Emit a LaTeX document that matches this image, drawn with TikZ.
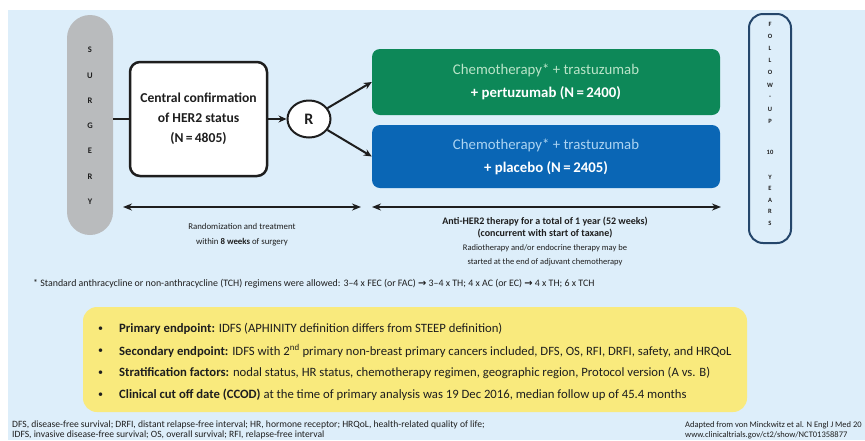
\documentclass[tikz,border=0pt]{standalone}
\usepackage{fontspec}
\setmainfont{Carlito}
\newfontfamily\djv{DejaVu Sans}
\usetikzlibrary{arrows.meta,shapes.geometric,calc}
\definecolor{bgblue}{RGB}{221,238,250}
\definecolor{pillgray}{RGB}{185,187,189}
\definecolor{armgreen}{RGB}{13,136,88}
\definecolor{armblue}{RGB}{10,102,181}
\definecolor{lightgreen}{RGB}{185,228,200}
\definecolor{lightblue}{RGB}{172,212,242}
\definecolor{navy}{RGB}{36,70,107}
\definecolor{keyyellow}{RGB}{249,234,125}
\definecolor{ink}{RGB}{30,30,30}
\tikzset{
  pill/.style={fill=pillgray, minimum width=46pt, minimum height=220pt, rounded corners=23pt, inner sep=0pt},
  vletter/.style={font=\fontsize{8.5}{8.5}\selectfont\bfseries, text=ink, inner sep=0pt},
  fletter/.style={font=\fontsize{6.5}{6.5}\selectfont\bfseries, text=ink, inner sep=0pt},
  cbox/.style={draw=ink, fill=white, line width=2.5pt, rounded corners=10pt, minimum width=137pt, minimum height=114pt, align=center, font=\fontsize{13.6}{20}\selectfont\bfseries, text=ink},
  rnode/.style={ellipse, draw=ink, fill=white, line width=2pt, minimum width=43pt, minimum height=37pt, inner sep=0pt, font=\fontsize{16}{16}\selectfont\bfseries, text=ink},
  armbox/.style={rounded corners=8pt, minimum width=348pt, align=center, font=\fontsize{14.8}{23}\selectfont, inner sep=0pt},
  fbox/.style={draw=navy, line width=2pt, rounded corners=14pt, minimum width=42pt, minimum height=229pt, inner sep=0pt},
  arr/.style={draw=ink, line width=2pt, -{Stealth[length=8pt,width=7pt]}},
  darr/.style={draw=ink, line width=2pt, {Stealth[length=9pt,width=7pt]}-{Stealth[length=9pt,width=7pt]}},
  smalltxt/.style={font=\fontsize{8.8}{15}\selectfont, text=ink, align=center, inner sep=0pt},
  ybox/.style={fill=keyyellow, rounded corners=14pt, minimum width=664pt, minimum height=105pt, inner sep=0pt},
  ytxt/.style={font=\fontsize{12.7}{12.7}\selectfont, text=ink, anchor=west, inner sep=0pt},
  foot/.style={font=\fontsize{9.6}{9.6}\selectfont, text=ink, anchor=west, inner sep=0pt}
}
\begin{document}
\begin{tikzpicture}[x=1pt,y=-1pt]
\useasboundingbox (0,0) rectangle (865,440);
\fill[white] (0,0) rectangle (865,440);
\fill[bgblue] (8,10) rectangle (865,440);

% Surgery pill
\node[pill] (surgery) at (90,125) {};
\foreach \l [count=\i] in {S,U,R,G,E,R,Y}
  \node[vletter] (s\i) at (90,{50+25.3*(\i-1)}) {\l};

% Central box
\node[cbox] (central) at (198.5,119) {Central confirmation\\of HER2 status\\(N\,=\,4805)};
\node[rnode] (R) at (309,119) {R};

% Arms
\node[armbox, fill=armgreen, minimum height=66pt] (green) at (546,82)
  {\textcolor{lightgreen}{Chemotherapy* + trastuzumab}\\\textcolor{white}{\bfseries + pertuzumab (N\,=\,2400)}};
\node[armbox, fill=armblue, minimum height=63pt] (blue) at (546,156.5)
  {\textcolor{lightblue}{Chemotherapy* + trastuzumab}\\\textcolor{white}{\bfseries + placebo (N\,=\,2405)}};

% Follow-up box
\node[fbox] (follow) at (770,128.5) {};
\foreach \l/\y [count=\i] in {F/24,O/36.2,L/48.4,L/60.6,O/72.8,W/85,-/97.2,U/109.4,P/121.6,10/152,Y/177,E/188.5,A/200,R/211.5,S/223}
  \node[fletter] (f\i) at (770,\y) {\l};

% Connectors
\draw[line width=2pt, draw=ink] (central.west -| surgery.east) -- (central.west);
\draw[arr] (central.east) -- (R.west);
\draw[arr] (R) -- (green.west);
\draw[arr] (R) -- (blue.west);

% Timeline arrows
\coordinate (a1) at (123,207);
\coordinate (a2) at (361,207);
\coordinate (b1) at (372,207);
\coordinate (b2) at (721,207);
\draw[darr] (a1) -- (a2);
\draw[darr] (b1) -- (b2);

\node[smalltxt] (randtxt) at (242,234.5) {Randomization and treatment\\within \textbf{8 weeks} of surgery};
\node[smalltxt, font=\fontsize{10}{11.3}\selectfont\bfseries] (antitxt) at (545,227.5) {Anti-HER2 therapy for a total of 1 year (52 weeks)\\(concurrent with start of taxane)};
\node[smalltxt, font=\fontsize{8.5}{14}\selectfont] (radtxt) at (545,255) {Radiotherapy and/or endocrine therapy may be\\started at the end of adjuvant chemotherapy};

% Footnote
\node[foot, font=\fontsize{9.9}{9.9}\selectfont] (fnote) at (33,284) {* Standard anthracycline or non-anthracycline (TCH) regimens were allowed: 3--4 x FEC (or FAC) {\djv\bfseries →} 3--4 x TH; 4 x AC (or EC) {\djv\bfseries →} 4 x TH; 6 x TCH};

% Key box
\node[ybox] (key) at (415,359.5) {};
\foreach \y [count=\i] in {329,351,373,395}
  \node[ytxt, font=\fontsize{10}{10}\selectfont] (bul\i) at (98,\y) {\textbullet};
\node[ytxt] (k1) at (119,329) {\textbf{Primary endpoint:} IDFS (APHINITY definition differs from STEEP definition)};
\node[ytxt] (k2) at (119,351) {\textbf{Secondary endpoint:} IDFS with 2\textsuperscript{nd} primary non-breast primary cancers included, DFS, OS, RFI, DRFI, safety, and HRQoL};
\node[ytxt] (k3) at (119,373) {\textbf{Stratification factors:} nodal status, HR status, chemotherapy regimen, geographic region, Protocol version (A vs. B)};
\node[ytxt] (k4) at (119,395) {\textbf{Clinical cut off date (CCOD)} at the time of primary analysis was 19 Dec 2016, median follow up of 45.4 months};

% Footer
\node[foot] (foot1) at (12,425) {DFS, disease-free survival; DRFI, distant relapse-free interval; HR, hormone receptor; HRQoL, health-related quality of life;};
\node[foot] (foot2) at (12,435) {IDFS, invasive disease-free survival; OS, overall survival; RFI, relapse-free interval};
\node[foot, font=\fontsize{8.5}{8.5}\selectfont] (foot3) at (685,425) {Adapted from von Minckwitz et al. N Engl J Med 20};
\node[foot, font=\fontsize{8.5}{8.5}\selectfont] (foot4) at (685,435) {www.clinicaltrials.gov/ct2/show/NCT01358877};
\end{tikzpicture}
\end{document}
